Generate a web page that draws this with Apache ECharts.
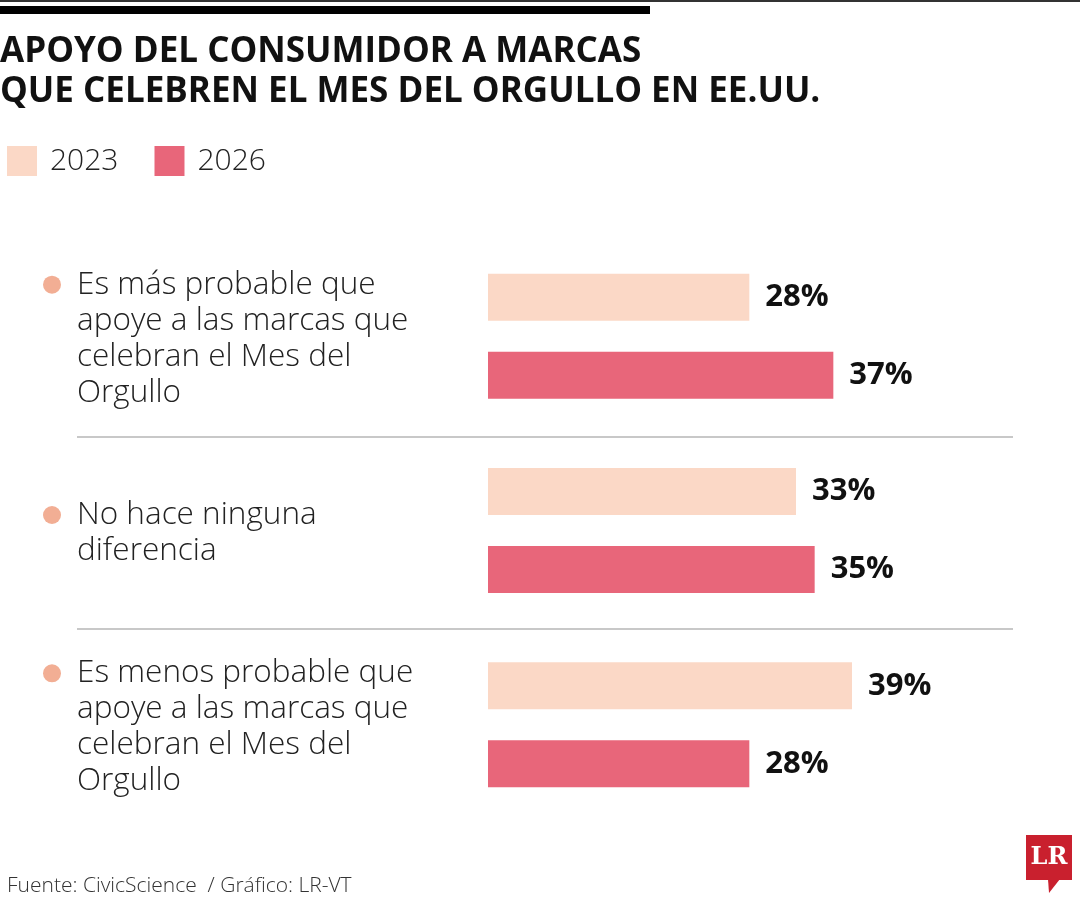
<!DOCTYPE html>
<html>
<head>
<meta charset="utf-8">
<script src="https://cdn.jsdelivr.net/npm/echarts@6/dist/echarts.min.js"></script>
<style>
  html, body { margin: 0; padding: 0; background: #fff; }
  #chart { width: 1080px; height: 900px; }
</style>
</head>
<body>
<div id="chart"></div>
<script>
// datos del gráfico
var categorias = [
    'Es más probable que\napoye a las marcas que\ncelebran el Mes del\nOrgullo',
    'No hace ninguna\ndiferencia',
    'Es menos probable que\napoye a las marcas que\ncelebran el Mes del\nOrgullo'
];
var anios = ['2023', '2026'];
var valores2023 = [28, 33, 39];
var valores2026 = [37, 35, 28];

var colores = ['#FBD8C6', '#E8667A'];
var fuente = '"Open Sans", sans-serif';

var dom = document.getElementById('chart');
var myChart = echarts.init(dom, null, { renderer: 'canvas' });

// etiqueta de categoría con viñeta en la primera línea
function formatoCategoria(value) {
    return value.split('\n').map(function (line, i) {
        return (i === 0 ? '{d|}{g|}' : '{s|}') + '{t|' + line + '}';
    }).join('\n');
}

var etiquetaValor = {
    show: true,
    position: 'right',
    distance: 16,
    formatter: '{c}%',
    color: '#111',
    fontFamily: fuente,
    fontSize: 31,
    fontWeight: 'bold'
};

var option = {
    backgroundColor: '#fff',
    animation: false,
    title: {
        text: 'APOYO DEL CONSUMIDOR A MARCAS\nQUE CELEBREN EL MES DEL ORGULLO EN EE.UU.',
        left: 0,
        top: 32,
        padding: 0,
        textStyle: {
            color: '#111',
            fontFamily: fuente,
            fontSize: 35,
            fontWeight: 'bold',
            lineHeight: 40
        }
    },
    legend: {
        left: 7,
        top: 146,
        padding: 0,
        icon: 'rect',
        itemWidth: 30,
        itemHeight: 30,
        itemGap: 36,
        data: anios,
        textStyle: {
            color: '#222',
            fontFamily: fuente,
            fontSize: 30,
            fontWeight: 300,
            padding: [0, 0, 0, 8]
        }
    },
    grid: {
        left: 488,
        top: 239,
        width: 560,
        height: 583
    },
    xAxis: {
        type: 'value',
        min: 0,
        max: 60,
        show: false
    },
    yAxis: {
        type: 'category',
        inverse: true,
        data: categorias,
        axisLine: { show: false },
        axisTick: { show: false },
        axisLabel: {
            align: 'left',
            margin: 445,
            padding: [5, 0, 0, 0],
            formatter: formatoCategoria,
            rich: {
                d: { width: 18, height: 18, borderRadius: 9, backgroundColor: '#F2AE94' },
                g: { width: 16 },
                s: { width: 34 },
                t: { color: '#222', fontFamily: fuente, fontSize: 31.5, fontWeight: 300, lineHeight: 36 }
            }
        }
    },
    series: [
        {
            name: anios[0],
            type: 'bar',
            data: valores2023,
            barWidth: 47,
            barGap: '66%',
            itemStyle: { color: colores[0] },
            label: etiquetaValor
        },
        {
            name: anios[1],
            type: 'bar',
            data: valores2026,
            barWidth: 47,
            itemStyle: { color: colores[1] },
            label: etiquetaValor
        }
    ],
    graphic: [
        // líneas superiores
        { type: 'rect', shape: { x: 0, y: 0, width: 1080, height: 2 }, style: { fill: '#333' } },
        { type: 'rect', shape: { x: 0, y: 6, width: 650, height: 8 }, style: { fill: '#000' } },
        // separadores
        { type: 'line', shape: { x1: 77, y1: 437, x2: 1013, y2: 437 }, style: { stroke: '#c8c8c8', lineWidth: 2 } },
        { type: 'line', shape: { x1: 77, y1: 629, x2: 1013, y2: 629 }, style: { stroke: '#c8c8c8', lineWidth: 2 } },
        // fuente
        {
            type: 'text', left: 7, top: 876,
            style: { text: 'Fuente: CivicScience  / Gráfico: LR-VT', fill: '#333', font: '300 21px "Open Sans", sans-serif' }
        },
        // logo LR
        {
            type: 'group', left: 1026, top: 835,
            children: [
                { type: 'rect', shape: { x: 0, y: 0, width: 46, height: 45 }, style: { fill: '#C9202E' } },
                { type: 'polygon', shape: { points: [[22, 44], [34, 44], [23, 58]] }, style: { fill: '#C9202E' } },
                {
                    type: 'text', x: 23, y: 23,
                    style: { text: 'LR', fill: '#fff', font: 'bold 24px "DejaVu Serif", serif', align: 'center', verticalAlign: 'middle' }
                }
            ]
        }
    ]
};

myChart.setOption(option);
</script>
</body>
</html>
